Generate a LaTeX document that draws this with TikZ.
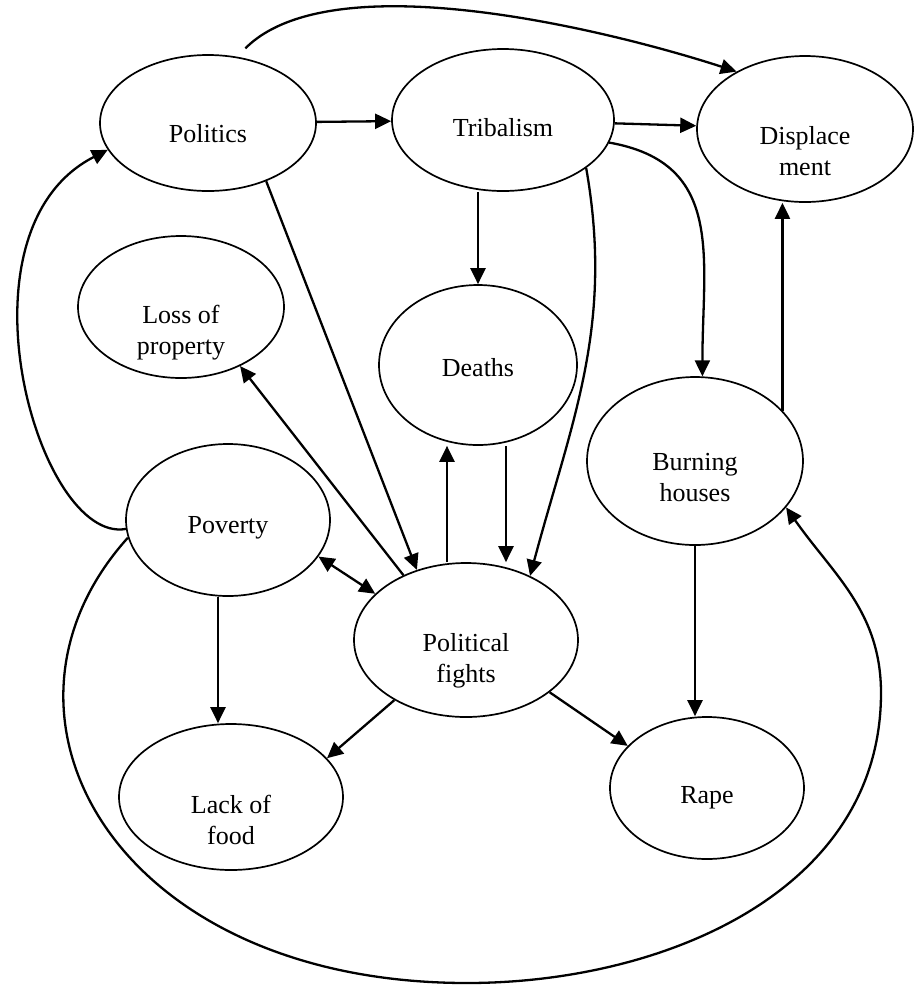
\documentclass[tikz,border=0pt]{standalone}
\usepackage{fontspec}
\setmainfont{Liberation Serif}
\usetikzlibrary{shapes.geometric, arrows.meta}

\begin{document}
\begin{tikzpicture}[->,>={Triangle[length=8pt,width=7.5pt]},line width=1.15pt,x=0.5pt,y=0.5pt]
    \tikzstyle{bubble}=[ellipse, draw, line width=0.85pt, inner sep=0pt]
    \tikzstyle{every label}=[align=center, font=\fontsize{13}{15.5}\selectfont]
    \useasboundingbox (0,0) rectangle (921,-987);

    \node[bubble, minimum width=108pt, minimum height=68pt, label={[yshift=-5.5pt]center:Politics}] (pol) at (208,-123) {};
    \node[bubble, minimum width=111pt, minimum height=71pt, label={[yshift=-4pt]center:Tribalism}] (trib) at (503,-120) {};
    \node[bubble, minimum width=108pt, minimum height=73pt, label={[yshift=-11pt]center:Displace\\ment}] (disp) at (805,-129) {};
    \node[bubble, minimum width=103pt, minimum height=71pt, label={[yshift=-13pt]center:Loss of\\property}] (loss) at (181,-307) {};
    \node[bubble, minimum width=99pt, minimum height=80pt, label={[yshift=-1.5pt]center:Deaths}] (death) at (478,-365) {};
    \node[bubble, minimum width=108pt, minimum height=84pt, label={[yshift=-8.5pt]center:Burning\\houses}] (burn) at (695,-461) {};
    \node[bubble, minimum width=102pt, minimum height=76pt, label={[yshift=-4pt]center:Poverty}] (pov) at (228,-520) {};
    \node[bubble, minimum width=112pt, minimum height=77pt, label={[yshift=-10.5pt]center:Political\\fights}] (fight) at (466,-640) {};
    \node[bubble, minimum width=112pt, minimum height=73pt, label={[yshift=-11.5pt]center:Lack of\\food}] (food) at (231,-797) {};
    \node[bubble, minimum width=97pt, minimum height=71pt, label={[yshift=-5pt]center:Rape}] (rape) at (707,-788) {};
    \coordinate (low) at (467,-983);
    \coordinate (far) at (881,-693);

    \path (pol) edge (trib);
    \path ([yshift=5pt]pol.60) edge[out=45, in=162, looseness=0.65] (disp.140);
    \path (trib) edge (disp);
    \path (death.north |- trib.south) edge (death.north);
    \path (trib.-30) edge[out=-80, in=75] (fight.45);
    \path (trib.-12) edge[out=-10, in=90, looseness=1.2] (burn.85);
    \path (pol.-45) edge (fight.125);
    \path (fight.134) edge (loss.-45);
    \path ([xshift=-9.5pt]fight.north) edge ([xshift=-9.5pt]fight.north |- death.south);
    \path ([xshift=14pt]death.south) edge ([xshift=14pt]death.south |- fight.north);
    \path (pov.185) edge[out=190, in=207, out looseness=0.6, in looseness=1.2] (pol.195);
    \path ([xshift=-5pt]pov.south) edge ([xshift=-5pt]pov.south |- food.north);
    \path (pov.-22) edge[<->] (fight.153);
    \path (fight.220) edge (food.22);
    \path (fight.-32) edge (rape.152);
    \path (burn.south) edge (burn.south |- rape.north);
    \path (burn.30) edge (burn.30 |- disp.south);
    \draw (pov.190) to[out=228, in=180, out looseness=1.1, in looseness=1.6] (low)
        to[out=0, in=-90] (far) to[out=90, in=-55] (burn.-27);
\end{tikzpicture}
\end{document}
